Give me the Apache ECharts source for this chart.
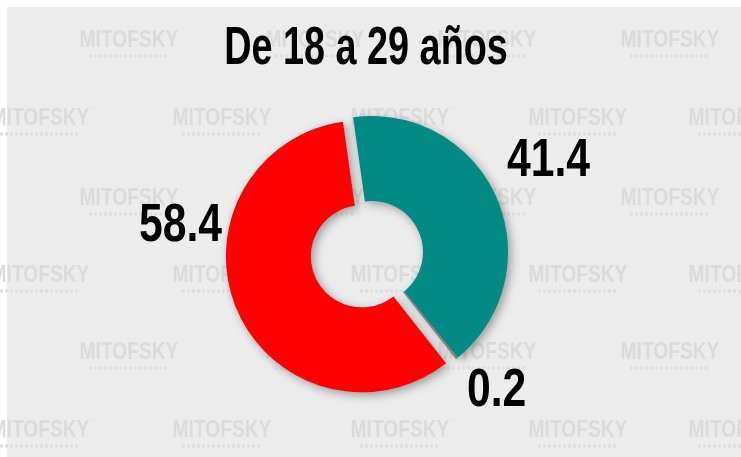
<!DOCTYPE html>
<html>
<head>
<meta charset="utf-8">
<script src="https://cdn.jsdelivr.net/npm/echarts@6/dist/echarts.min.js"></script>
<style>
  html, body { margin: 0; padding: 0; background: #fff; }
  #chart { width: 741px; height: 457px; }
</style>
</head>
<body>
<div id="chart"></div>
<script>
// De 18 a 29 años — dona con la tajada roja separada
const titleText = "De 18 a 29 años";
const sliceNames = ["A", "Otro", "B"];
const sliceValues = [41.4, 0.2, 58.4];
const sliceColors = ["#008a84", "#8c8080", "#ff0000"];
const explodedIndex = 2;

// posiciones de las etiquetas (texto, no marcas)
const labelSpots = {
  A: { x: 507, y: 161, align: "left" },
  Otro: { x: 467, y: 391, align: "left" },
  B: { x: 222, y: 226, align: "right" }
};

const CENTER = [372, 252];
const START = 98;
const OFFSET = 11;
const NARROW = 0.79;
const FONT = "'Liberation Sans Narrow', 'Arial Narrow', 'Liberation Sans', Arial, sans-serif";

const chart = echarts.init(document.getElementById("chart"), null, { renderer: "canvas" });

// desplazamiento de la tajada separada, según su ángulo medio
const total = sliceValues.reduce((a, b) => a + b, 0);
const before = sliceValues.slice(0, explodedIndex).reduce((a, b) => a + b, 0);
const midDeg = START - (before + sliceValues[explodedIndex] / 2) / total * 360;
const midRad = midDeg * Math.PI / 180;
const shiftedCenter = [CENTER[0] + Math.cos(midRad) * OFFSET, CENTER[1] - Math.sin(midRad) * OFFSET];

// marca de agua MITOFSKY
const marks = [];
const rowsY = [40, 118, 198, 275, 352, 430];
rowsY.forEach((y, i) => {
  const xs = i % 2 === 0 ? [129, 315, 487, 670] : [40, 222, 400, 578, 738];
  xs.forEach((x) => {
    marks.push({
      type: "text", z: -9, silent: true, x: x, y: y, scaleX: 0.8,
      style: { text: "MITOFSKY", align: "center", verticalAlign: "middle",
        font: "bold 24px " + FONT, fill: "#dbdbdb" }
    });
    marks.push({
      type: "line", z: -9, silent: true,
      shape: { x1: x - 40, y1: y + 16, x2: x + 40, y2: y + 16 },
      style: { stroke: "#dedede", lineWidth: 3, lineDash: [3, 2] }
    });
  });
});

function pieData(visible) {
  return sliceValues.map((v, i) => {
    const on = visible(i);
    const thin = v < 1;
    return {
      name: sliceNames[i], value: v,
      itemStyle: on
        ? (thin ? { color: sliceColors[i], borderColor: sliceColors[i], borderWidth: 1, shadowBlur: 0, shadowOffsetX: 0, shadowOffsetY: 0 }
                : { color: sliceColors[i] })
        : { color: "transparent", shadowBlur: 0, shadowColor: "transparent" },
      label: { show: on }
    };
  });
}

const common = {
  type: "pie",
  radius: [51, 136],
  startAngle: START,
  clockwise: true,
  silent: true,
  avoidLabelOverlap: false,
  itemStyle: { shadowBlur: 10, shadowColor: "rgba(0,0,0,0.35)", shadowOffsetX: 3, shadowOffsetY: 3 },
  label: {
    position: "outside", color: "#000",
    fontFamily: FONT, fontWeight: "bold", fontSize: 54,
    formatter: (p) => p.value.toFixed(1)
  },
  labelLine: { show: false },
  labelLayout: (p) => {
    const s = labelSpots[sliceNames[p.dataIndex]];
    return { x: s.x, y: s.y, align: s.align, verticalAlign: "middle" };
  },
  emphasis: { disabled: true }
};

chart.setOption({
  backgroundColor: "#ffffff",
  animation: false,
  graphic: [
    { type: "rect", z: -10, silent: true, shape: { x: 7, y: 7, width: 734, height: 450 }, style: { fill: "#ececec" } },
    ...marks,
    {
      type: "text", z: 10, x: 366, y: 49, scaleX: 0.7,
      style: { text: titleText, align: "center", verticalAlign: "middle",
        font: "bold 54px " + FONT, fill: "#000" }
    }
  ],
  series: [
    Object.assign({}, common, { center: CENTER, data: pieData((i) => i !== explodedIndex) }),
    Object.assign({}, common, { center: shiftedCenter, data: pieData((i) => i === explodedIndex) })
  ]
});

// letra angosta: estrechar las etiquetas como en el original
[0, 1].forEach((si) => {
  const data = chart.getModel().getSeriesByIndex(si).getData();
  data.each((idx) => {
    const el = data.getItemGraphicEl(idx);
    const label = el && el.getTextContent();
    if (label) { label.scaleX = NARROW; label.markRedraw(); }
  });
});
</script>
</body>
</html>
